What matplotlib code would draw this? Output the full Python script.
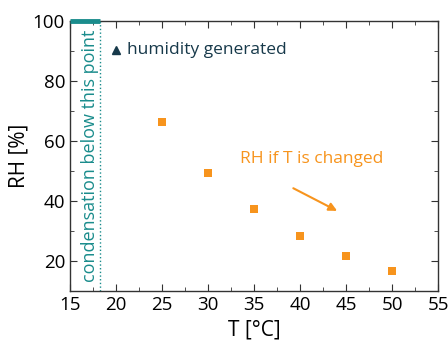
import matplotlib
matplotlib.use("Agg")
import matplotlib.pyplot as plt
from matplotlib.ticker import MultipleLocator

plt.rcParams['font.family'] = ['Open Sans', 'DejaVu Sans']

T = [25, 30, 35, 40, 45, 50]
RH = [66.3, 49.5, 37.2, 28.2, 21.6, 16.8]
T_cond = 18.3
gen_T, gen_RH = 20, 90.3

orange = '#F7941D'
teal = '#1A8C8C'
navy = '#17394A'

fig = plt.figure(figsize=(4.48, 3.4), dpi=100)
ax = fig.add_axes([0.156, 0.144, 0.822, 0.794])

ax.scatter(T, RH, marker='s', s=30, color=orange, zorder=3, linewidths=0)
ax.axvline(T_cond, color=teal, linestyle=':', linewidth=1.0)
ax.plot([15, T_cond], [100, 100], color=teal, linewidth=3.5, clip_on=False, zorder=4, solid_capstyle='butt')

ax.text(17.2, 55, 'condensation below this point', rotation=90, color=teal,
        fontsize=13, ha='center', va='center')
ax.plot([gen_T], [gen_RH], marker='^', color=navy, markersize=6, linestyle='none')
ax.text(gen_T + 1.2, gen_RH, 'humidity generated', color=navy, fontsize=12.5,
        ha='left', va='center')
ax.text(41.3, 54, 'RH if T is changed', color=orange, fontsize=12.5, ha='center', va='center')
ax.annotate('', xy=(44.3, 36.3), xytext=(39.0, 44.7),
            arrowprops=dict(arrowstyle='-|>', color=orange, lw=1.5, mutation_scale=12))

ax.set_xlim(15, 55)
ax.set_ylim(10, 100)
ax.xaxis.set_major_locator(MultipleLocator(5))
ax.xaxis.set_minor_locator(MultipleLocator(2.5))
ax.yaxis.set_minor_locator(MultipleLocator(10))
ax.set_yticks([20, 40, 60, 80, 100])
ax.tick_params(which='both', direction='in', top=True, right=True, labelsize=13.5, color='#333333')
ax.tick_params(which='major', length=5)
ax.tick_params(which='minor', length=3)
for s in ax.spines.values():
    s.set_color('#333333')
    s.set_linewidth(1.0)
ax.set_xlabel('T [°C]', fontsize=15, labelpad=4)
ax.set_ylabel('RH [%]', fontsize=15, labelpad=2)

fig.savefig('out.png', dpi=100)
